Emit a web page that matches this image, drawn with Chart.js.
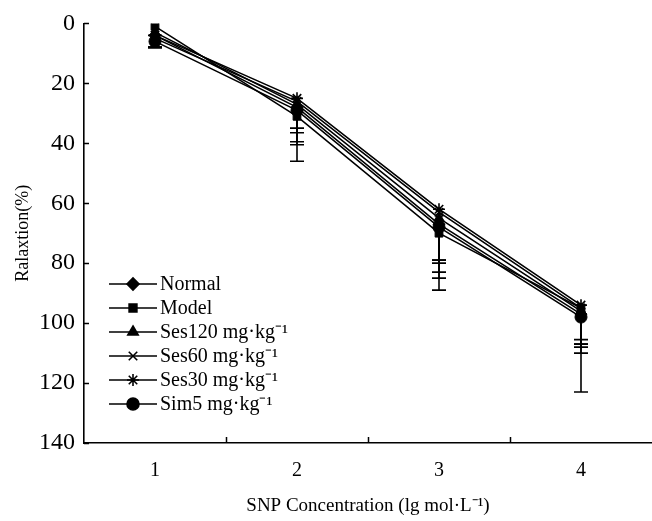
<!DOCTYPE html>
<html lang="en">
<head>
<meta charset="UTF-8">
<title>Relaxation</title>
<script src="https://cdn.jsdelivr.net/npm/chart.js"></script>
<style>
html, body { margin: 0; padding: 0; background: #fff; }
#wrap { width: 652px; height: 521px; }
</style>
</head>
<body>
<div id="wrap"><canvas id="chart" width="652" height="521"></canvas></div>
<script>
// data (values are relaxation %, errors are one-sided, pointing down)
const concentrations = ['1', '2', '3', '4'];
const seriesNames = ['Normal', 'Model', 'Ses120 mg\u00b7kg\u207b\u00b9', 'Ses60 mg\u00b7kg\u207b\u00b9', 'Ses30 mg\u00b7kg\u207b\u00b9', 'Sim5 mg\u00b7kg\u207b\u00b9'];
const normalVals = [4, 28, 67, 97];
const modelVals = [1, 31, 70, 95];
const ses120Vals = [3, 27, 65, 96];
const ses60Vals = [5, 26, 63, 95];
const ses30Vals = [4, 25, 62, 94];
const sim5Vals = [6, 29, 68, 98];
const normalErr = [4, 8.5, 16, 10];
const modelErr = [3, 15, 19, 28];
const ses120Err = [5, 8, 14, 12];
const ses60Err = [3, 14.5, 22, 15];
const ses30Err = [4, 14.5, 17, 11.5];
const sim5Err = [2, 6, 12, 9];
const yTicks = [0, 20, 40, 60, 80, 100, 120, 140];

const markers = ['rectRot', 'rect', 'triangle', 'crossRot', 'star', 'circle'];
const allVals = [normalVals, modelVals, ses120Vals, ses60Vals, ses30Vals, sim5Vals];
const allErr = [normalErr, modelErr, ses120Err, ses60Err, ses30Err, sim5Err];

const FONT = "'Liberation Serif', 'Times New Roman', serif";

const datasets = seriesNames.map((name, i) => ({
    label: name,
    data: allVals[i],
    errors: allErr[i],
    borderColor: '#000',
    backgroundColor: '#000',
    borderWidth: 1.6,
    pointStyle: markers[i],
    pointRadius: markers[i] === 'rect' ? 5.5 : 6,
    pointBorderWidth: markers[i] === 'crossRot' || markers[i] === 'star' ? 1.6 : 1,
    pointBorderColor: '#000',
    pointBackgroundColor: '#000',
    tension: 0
}));

// one-sided error bars with caps
const errorBars = {
    id: 'errorBars',
    afterDatasetsDraw(chart) {
        const ctx = chart.ctx, x = chart.scales.x, y = chart.scales.y;
        ctx.save();
        ctx.strokeStyle = '#000';
        ctx.lineWidth = 1.6;
        chart.data.datasets.forEach(ds => {
            ds.errors.forEach((e, j) => {
                const px = x.getPixelForValue(j);
                const y0 = y.getPixelForValue(ds.data[j]);
                const y1 = y.getPixelForValue(ds.data[j] + e);
                ctx.beginPath();
                ctx.moveTo(px, y0);
                ctx.lineTo(px, y1);
                ctx.moveTo(px - 7, y1);
                ctx.lineTo(px + 7, y1);
                ctx.stroke();
            });
        });
        ctx.restore();
    }
};

// inward tick marks on both axes
const innerTicks = {
    id: 'innerTicks',
    afterDraw(chart) {
        const ctx = chart.ctx, x = chart.scales.x, y = chart.scales.y;
        const area = chart.chartArea;
        ctx.save();
        ctx.strokeStyle = '#000';
        ctx.lineWidth = 1.5;
        ctx.beginPath();
        yTicks.forEach(v => {
            const py = Math.round(y.getPixelForValue(v)) + 0.5;
            ctx.moveTo(area.left, py);
            ctx.lineTo(area.left + 5, py);
        });
        for (let j = 1; j < concentrations.length; j++) {
            const px = Math.round((x.getPixelForValue(j - 1) + x.getPixelForValue(j)) / 2) + 0.5;
            ctx.moveTo(px, area.bottom);
            ctx.lineTo(px, area.bottom - 6);
        }
        ctx.stroke();
        ctx.restore();
    }
};

// legend inside the plot: short line with marker, then the name
const lineLegend = {
    id: 'lineLegend',
    afterDraw(chart) {
        const ctx = chart.ctx;
        const x0 = 109, x1 = 157, top = 284, step = 24;
        ctx.save();
        ctx.font = '20px ' + FONT;
        ctx.textBaseline = 'middle';
        ctx.fillStyle = '#000';
        chart.data.datasets.forEach((ds, i) => {
            const yy = top + i * step;
            ctx.strokeStyle = '#000';
            ctx.lineWidth = 1.6;
            ctx.beginPath();
            ctx.moveTo(x0, yy);
            ctx.lineTo(x1, yy);
            ctx.stroke();
            Chart.helpers.drawPoint(ctx, {
                pointStyle: ds.pointStyle,
                radius: ds.pointRadius,
                borderWidth: ds.pointBorderWidth,
                rotation: 0
            }, (x0 + x1) / 2, yy);
            ctx.fillText(ds.label, 160, yy + 1);
        });
        ctx.restore();
    }
};

new Chart(document.getElementById('chart'), {
    type: 'line',
    data: { labels: concentrations, datasets: datasets },
    options: {
        responsive: false,
        animation: false,
        layout: { autoPadding: false, padding: { top: 17, right: 0, left: 0, bottom: 0 } },
        plugins: {
            legend: { display: false },
            tooltip: { enabled: false }
        },
        scales: {
            x: {
                type: 'category',
                offset: true,
                grid: { display: false, drawTicks: false },
                border: { display: true, color: '#000', width: 1.6 },
                ticks: { color: '#000', padding: 16, font: { family: FONT, size: 20 } },
                title: {
                    display: true,
                    text: 'SNP Concentration (lg mol\u00b7L\u207b\u00b9)',
                    color: '#000',
                    font: { family: FONT, size: 19 },
                    padding: { top: 0, bottom: 4 }
                },
                afterFit(scale) {
                    scale.height = 78;
                    scale.paddingLeft = 0;
                    scale.paddingRight = 0;
                }
            },
            y: {
                reverse: true,
                min: 0,
                max: 140,
                grid: { display: false, drawTicks: false },
                border: { display: true, color: '#000', width: 1.6 },
                afterBuildTicks(scale) { scale.ticks = yTicks.map(v => ({ value: v })); },
                ticks: { color: '#000', padding: 9, font: { family: FONT, size: 24 } },
                title: {
                    display: true,
                    text: 'Ralaxtion(%)',
                    color: '#000',
                    font: { family: FONT, size: 18 },
                    padding: { top: 12, bottom: 0 }
                },
                afterFit(scale) { scale.width = 84; }
            }
        }
    },
    plugins: [errorBars, innerTicks, lineLegend]
});
</script>
</body>
</html>
